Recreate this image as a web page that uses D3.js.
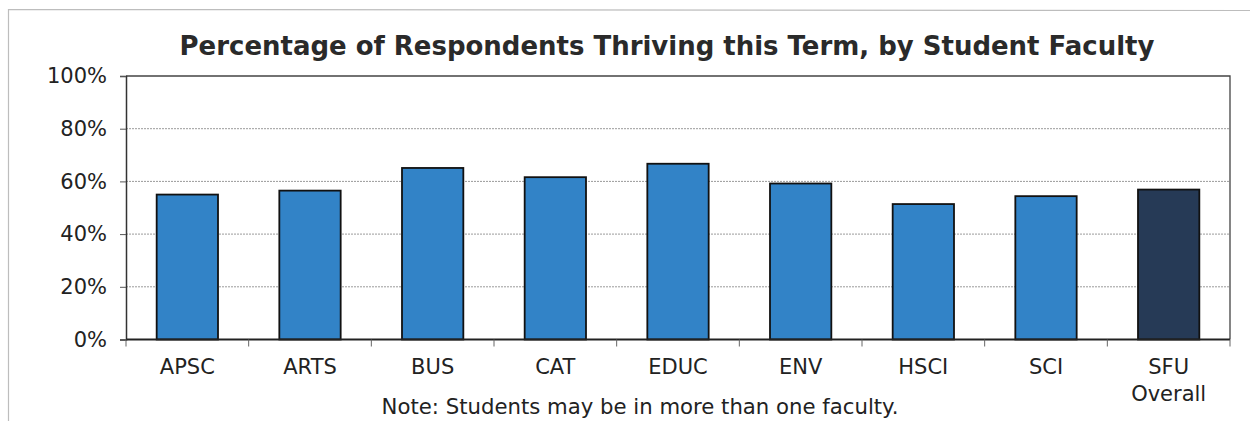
<!DOCTYPE html>
<html>
<head>
<meta charset="utf-8">
<script src="https://cdn.jsdelivr.net/npm/d3@7"></script>
<style>
  html, body { margin: 0; padding: 0; background: #fff; }
  svg { display: block; font-family: "DejaVu Sans", Verdana, sans-serif; }
</style>
</head>
<body>
<svg id="chart" width="1250" height="422"></svg>
<script>
const categories = ["APSC", "ARTS", "BUS", "CAT", "EDUC", "ENV", "HSCI", "SCI", "SFU Overall"];
const values = [55.0, 56.5, 65.1, 61.6, 66.7, 59.2, 51.4, 54.4, 56.9];
const yTicks = [0, 20, 40, 60, 80, 100];
const titleText = "Percentage of Respondents Thriving this Term, by Student Faculty";
const noteText = "Note: Students may be in more than one faculty.";

const svg = d3.select("#chart");
const x0 = 126, xEnd = 1230;

// outer frame
svg.append("path")
  .attr("d", `M8.5,421 L8.5,9.5 L1250,10.5`)
  .attr("fill", "none").attr("stroke", "#bdbdbd").attr("stroke-width", 1.2);

const x = d3.scaleBand().domain(categories).range([x0, xEnd]).paddingInner(0.5).paddingOuter(0.25);
const y = d3.scaleLinear().domain([0, 100]).range([339.5, 76]);

// gridlines
svg.append("g")
  .selectAll("line").data(yTicks.filter(d => d > 0 && d < 100)).join("line")
  .attr("x1", x0).attr("x2", xEnd)
  .attr("y1", d => y(d)).attr("y2", d => y(d))
  .attr("stroke", "#9a9a9a").attr("stroke-width", 1).attr("stroke-dasharray", "2,1");

// plot frame top/right
svg.append("path")
  .attr("d", `M${x0},${y(100)} L${xEnd},${y(100)} L${xEnd},${y(0)}`)
  .attr("fill", "none").attr("stroke", "#444").attr("stroke-width", 1.3);

// bars
svg.append("g").selectAll("rect").data(categories).join("rect")
  .attr("x", d => x(d)).attr("width", x.bandwidth())
  .attr("y", (d, i) => y(values[i]))
  .attr("height", (d, i) => y(0) - y(values[i]))
  .attr("fill", (d, i) => i === categories.length - 1 ? "#263a56" : "#3283c7")
  .attr("stroke", "#111").attr("stroke-width", 1.8);

// y axis
const yAxis = d3.axisLeft(y).tickValues(yTicks).tickFormat(d => d + "%").tickSize(6).tickPadding(13);
const gy = svg.append("g").attr("transform", `translate(${x0},0)`).call(yAxis);
gy.select(".domain").attr("stroke", "#333").attr("stroke-width", 1.5);
gy.selectAll(".tick line").attr("stroke", "#555");
gy.selectAll("text").attr("font-size", 21).attr("fill", "#222").attr("font-family", "DejaVu Sans");

// x axis: ticks at band boundaries
const gx = svg.append("g");
gx.append("line").attr("x1", x0).attr("x2", xEnd).attr("y1", y(0)).attr("y2", y(0))
  .attr("stroke", "#222").attr("stroke-width", 2);
const bounds = d3.range(categories.length + 1).map(i => x0 + i * (xEnd - x0) / categories.length);
gx.selectAll("line.tk").data(bounds).join("line").attr("class", "tk")
  .attr("x1", d => d).attr("x2", d => d).attr("y1", y(0)).attr("y2", y(0) + 7)
  .attr("stroke", "#666").attr("stroke-width", 1);

gx.selectAll("text.lbl").data(categories).join("text").attr("class", "lbl")
  .attr("text-anchor", "middle").attr("font-size", 21).attr("fill", "#222")
  .attr("x", d => x(d) + x.bandwidth() / 2)
  .attr("y", 374)
  .each(function(d) {
    const parts = d === "SFU Overall" ? ["SFU", "Overall"] : [d];
    const t = d3.select(this);
    parts.forEach((p, i) => {
      t.append("tspan").attr("x", x(d) + x.bandwidth() / 2).attr("dy", i === 0 ? 0 : 27).text(p);
    });
  });

// title
const title = svg.append("text").text(titleText)
  .attr("x", 667).attr("y", 55).attr("text-anchor", "middle")
  .attr("font-size", 22).attr("font-weight", "bold").attr("fill", "#2a2a2a");
{
  const w = title.node().getComputedTextLength();
  title.attr("font-size", 22 * 975 / w);
}

// note
const note = svg.append("text").text(noteText)
  .attr("x", 640).attr("y", 414).attr("text-anchor", "middle")
  .attr("font-size", 18).attr("fill", "#222");
{
  const w = note.node().getComputedTextLength();
  note.attr("font-size", 18 * 517 / w);
}
</script>
</body>
</html>
